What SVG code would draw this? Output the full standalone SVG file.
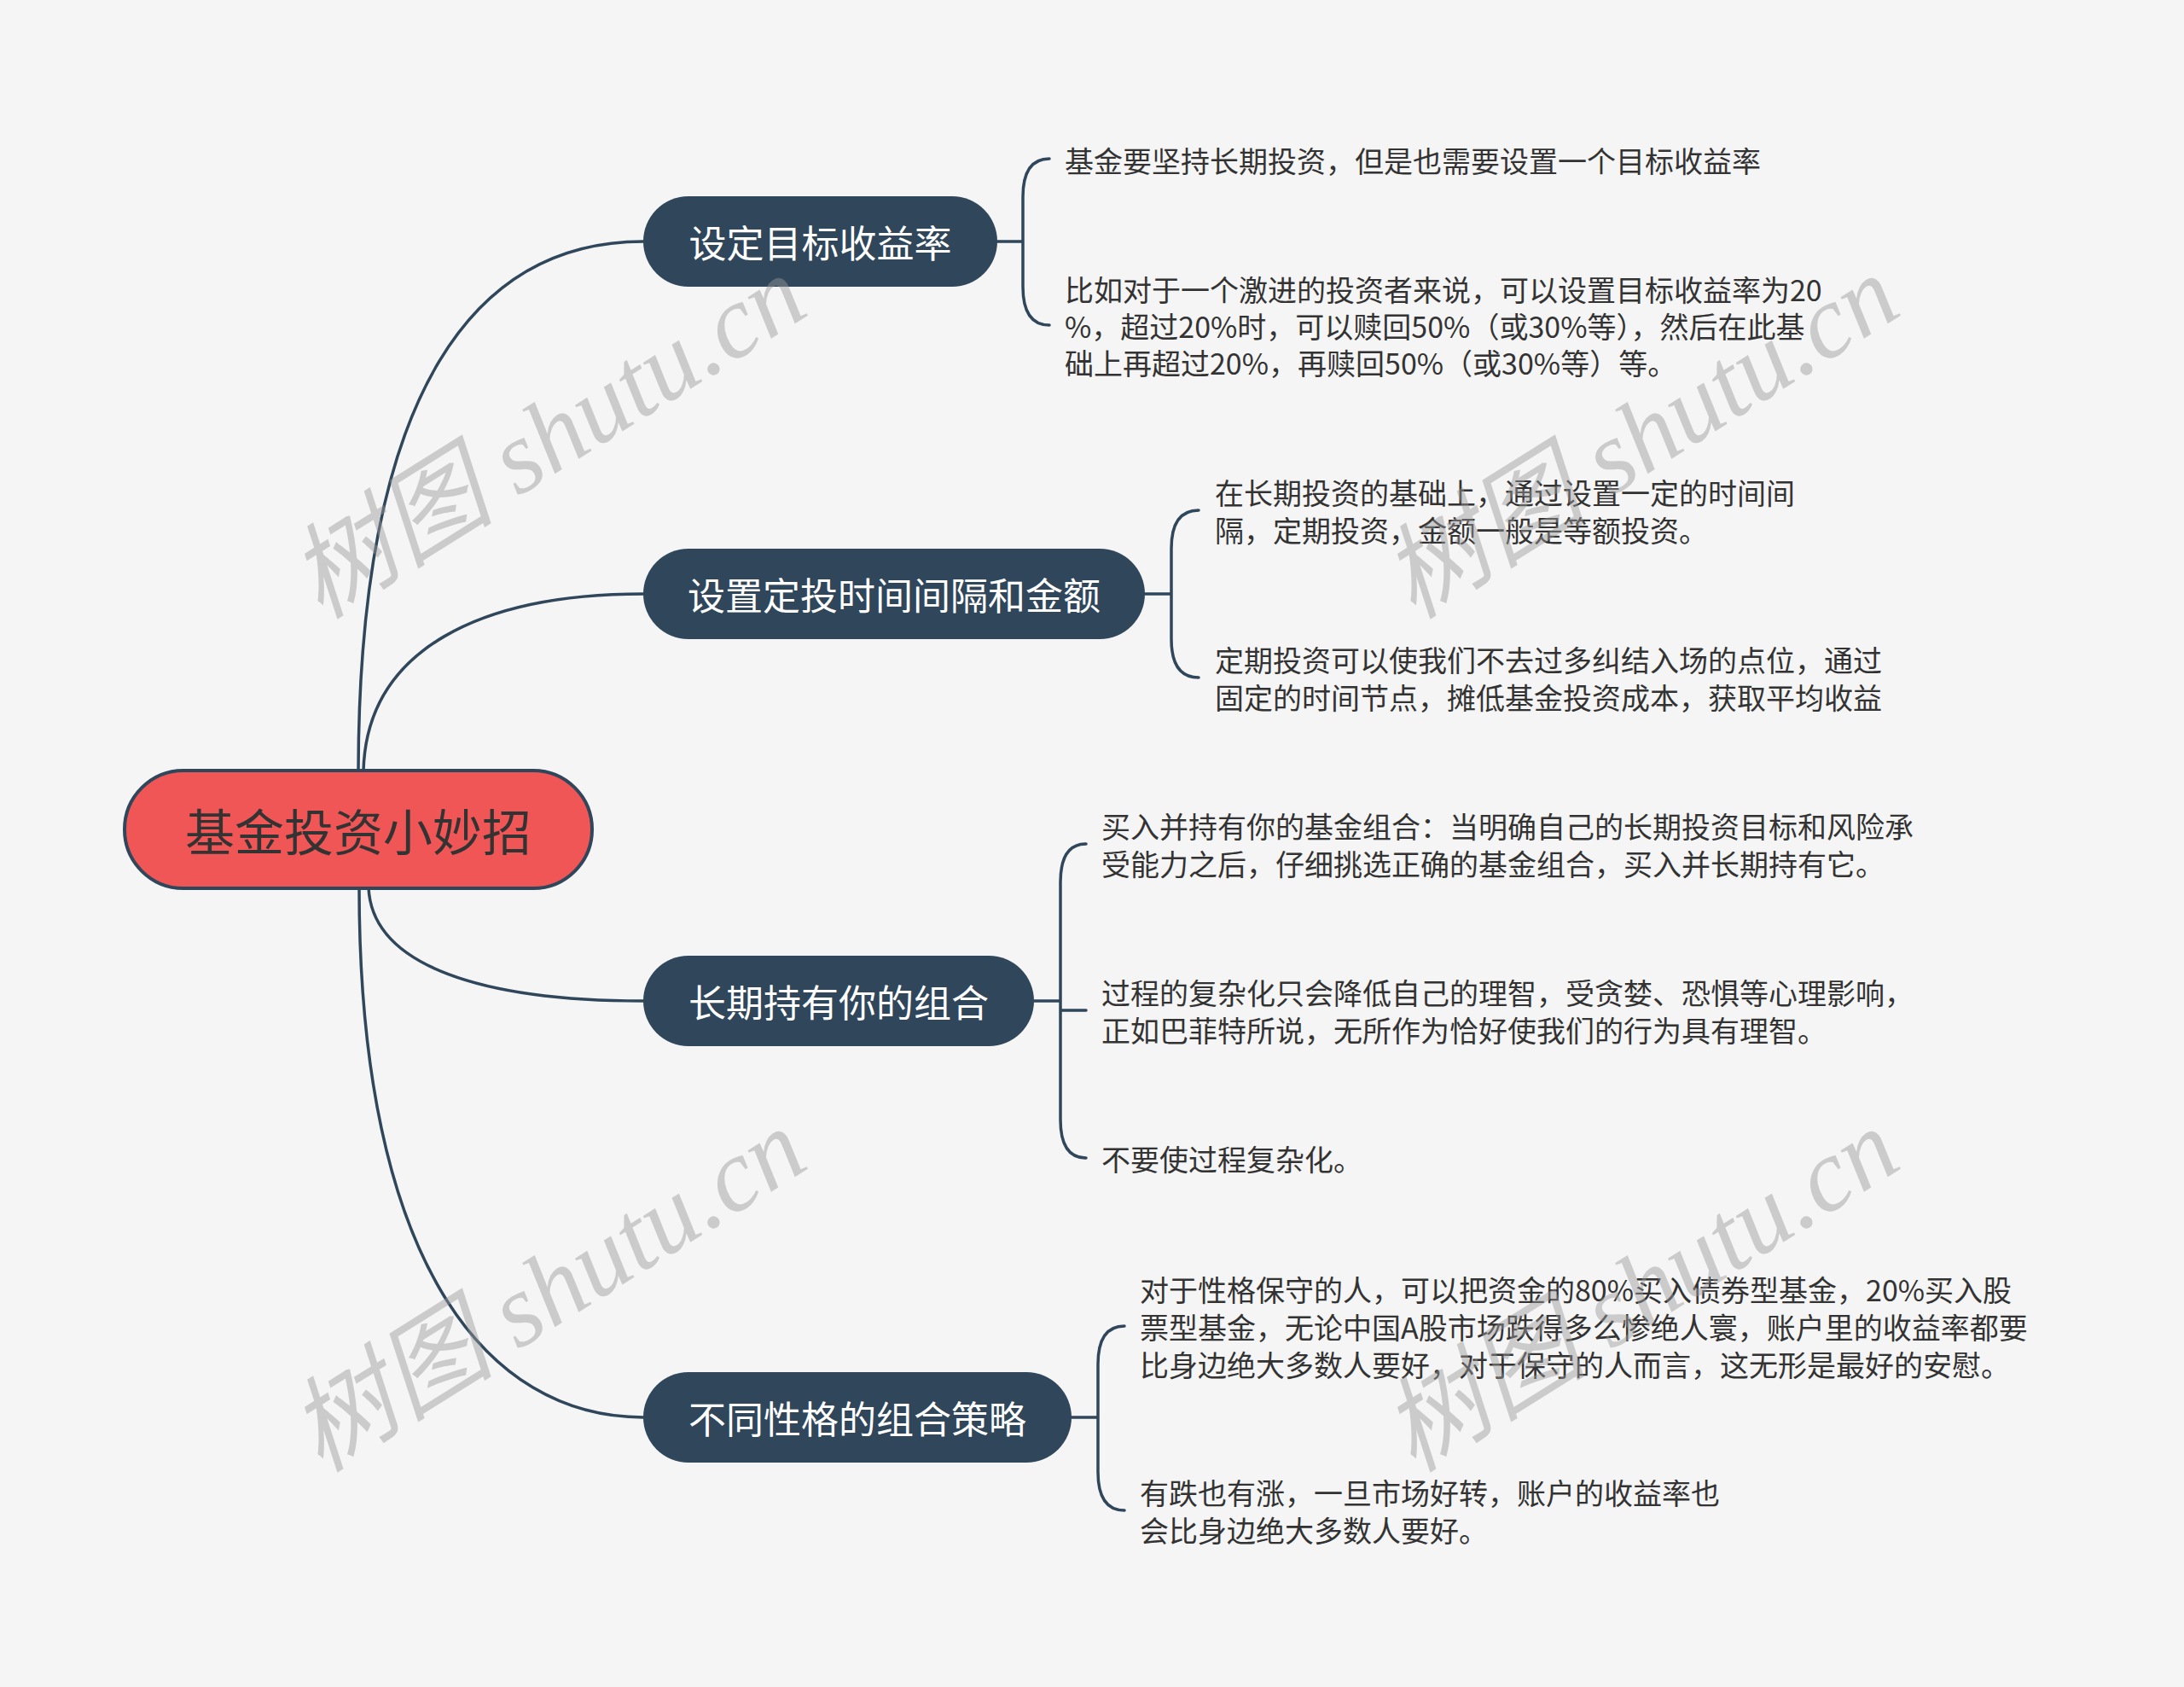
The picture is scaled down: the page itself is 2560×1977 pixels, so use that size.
<svg xmlns="http://www.w3.org/2000/svg" width="2560" height="1977" viewBox="0 0 2560 1977">
<style>
.bg{fill:#F5F5F5}
.link{fill:none;stroke:#2F465B;stroke-width:3.5;stroke-linecap:round}
.root{fill:#F05656;stroke:#2F465B;stroke-width:4}
.rootText{font-family:"Noto Sans CJK SC","Noto Sans",sans-serif;font-size:58px;fill:#333333}
.branch{fill:#2F465B}
.branchText{font-family:"Noto Sans CJK SC","Noto Sans",sans-serif;font-size:44px;fill:#FFFFFF}
.leaf{font-family:"Noto Sans CJK SC","Noto Sans",sans-serif;font-size:34px;fill:#333333}
.wm{font-family:"Liberation Serif","Noto Sans CJK SC",serif;font-style:italic;font-size:121px;fill:#9A9A9A;opacity:0.45}
</style>
<rect class="bg" x="0" y="0" width="2560" height="1977"/>
<g id="connectors">
<path class="link" d="M420,903 C421,450 561,283 754,283"/>
<path class="link" d="M426,903 C430,760 565,696 754,696"/>
<path class="link" d="M432,1040 C436,1133 568,1173 754,1173"/>
<path class="link" d="M421,1040 C421,1480 570,1661 754,1661"/>
<path class="link" d="M1169,283 H1199 M1230,186 Q1199,186 1199,231 V336 Q1199,381 1230,381"/>
<path class="link" d="M1342,696 H1373 M1405,598 Q1373,598 1373,643 V749 Q1373,794 1405,794"/>
<path class="link" d="M1212,1173 H1243 M1243,1184 H1273 M1273,989 Q1243,989 1243,1034 V1312 Q1243,1357 1273,1357"/>
<path class="link" d="M1256,1661 H1287 M1318,1554 Q1287,1554 1287,1599 V1725 Q1287,1770 1318,1770"/>
</g>
<g id="root">
<rect class="root" x="146" y="903" width="548" height="138" rx="69"/>
<text class="rootText" x="420" y="972" text-anchor="middle" dominant-baseline="central">基金投资小妙招</text>
</g>
<g id="n1">
<rect class="branch" x="754" y="230" width="415" height="106" rx="53"/>
<text class="branchText" x="961.5" y="283" text-anchor="middle" dominant-baseline="central">设定目标收益率</text>
</g>
<g id="n2">
<rect class="branch" x="754" y="643" width="588" height="106" rx="53"/>
<text class="branchText" x="1048" y="696" text-anchor="middle" dominant-baseline="central">设置定投时间间隔和金额</text>
</g>
<g id="n3">
<rect class="branch" x="754" y="1120" width="458" height="106" rx="53"/>
<text class="branchText" x="983" y="1173" text-anchor="middle" dominant-baseline="central">长期持有你的组合</text>
</g>
<g id="n4">
<rect class="branch" x="754" y="1608" width="502" height="106" rx="53"/>
<text class="branchText" x="1005" y="1661" text-anchor="middle" dominant-baseline="central">不同性格的组合策略</text>
</g>
<g id="l1a"><text class="leaf" x="1248" y="187" dominant-baseline="central">基金要坚持长期投资，但是也需要设置一个目标收益率</text></g>
<g id="l1b"><text class="leaf" dominant-baseline="central">
<tspan x="1248" y="338">比如对于一个激进的投资者来说，可以设置目标收益率为20</tspan>
<tspan x="1248" y="381">%，超过20%时，可以赎回50%（或30%等），然后在此基</tspan>
<tspan x="1248" y="424">础上再超过20%，再赎回50%（或30%等）等。</tspan></text></g>
<g id="l2a"><text class="leaf" dominant-baseline="central">
<tspan x="1424" y="576">在长期投资的基础上，通过设置一定的时间间</tspan>
<tspan x="1424" y="620">隔，定期投资，金额一般是等额投资。</tspan></text></g>
<g id="l2b"><text class="leaf" dominant-baseline="central">
<tspan x="1424" y="772">定期投资可以使我们不去过多纠结入场的点位，通过</tspan>
<tspan x="1424" y="816">固定的时间节点，摊低基金投资成本，获取平均收益</tspan></text></g>
<g id="l3a"><text class="leaf" dominant-baseline="central">
<tspan x="1291" y="967">买入并持有你的基金组合：当明确自己的长期投资目标和风险承</tspan>
<tspan x="1291" y="1011">受能力之后，仔细挑选正确的基金组合，买入并长期持有它。</tspan></text></g>
<g id="l3b"><text class="leaf" dominant-baseline="central">
<tspan x="1291" y="1162">过程的复杂化只会降低自己的理智，受贪婪、恐惧等心理影响，</tspan>
<tspan x="1291" y="1206">正如巴菲特所说，无所作为恰好使我们的行为具有理智。</tspan></text></g>
<g id="l3c"><text class="leaf" x="1291" y="1357" dominant-baseline="central">不要使过程复杂化。</text></g>
<g id="l4a"><text class="leaf" dominant-baseline="central">
<tspan x="1336" y="1510">对于性格保守的人，可以把资金的80%买入债券型基金，20%买入股</tspan>
<tspan x="1336" y="1554">票型基金，无论中国A股市场跌得多么惨绝人寰，账户里的收益率都要</tspan>
<tspan x="1336" y="1598">比身边绝大多数人要好，对于保守的人而言，这无形是最好的安慰。</tspan></text></g>
<g id="l4b"><text class="leaf" dominant-baseline="central">
<tspan x="1336" y="1748">有跌也有涨，一旦市场好转，账户的收益率也</tspan>
<tspan x="1336" y="1792">会比身边绝大多数人要好。</tspan></text></g>
<g id="watermarks">
<text class="wm" x="0" y="0" text-anchor="middle" dominant-baseline="central" transform="translate(642,512) rotate(-32)">树图 shutu.cn</text>
<text class="wm" x="0" y="0" text-anchor="middle" dominant-baseline="central" transform="translate(1923,512) rotate(-32)">树图 shutu.cn</text>
<text class="wm" x="0" y="0" text-anchor="middle" dominant-baseline="central" transform="translate(642,1512) rotate(-32)">树图 shutu.cn</text>
<text class="wm" x="0" y="0" text-anchor="middle" dominant-baseline="central" transform="translate(1923,1512) rotate(-32)">树图 shutu.cn</text>
</g>
</svg>
